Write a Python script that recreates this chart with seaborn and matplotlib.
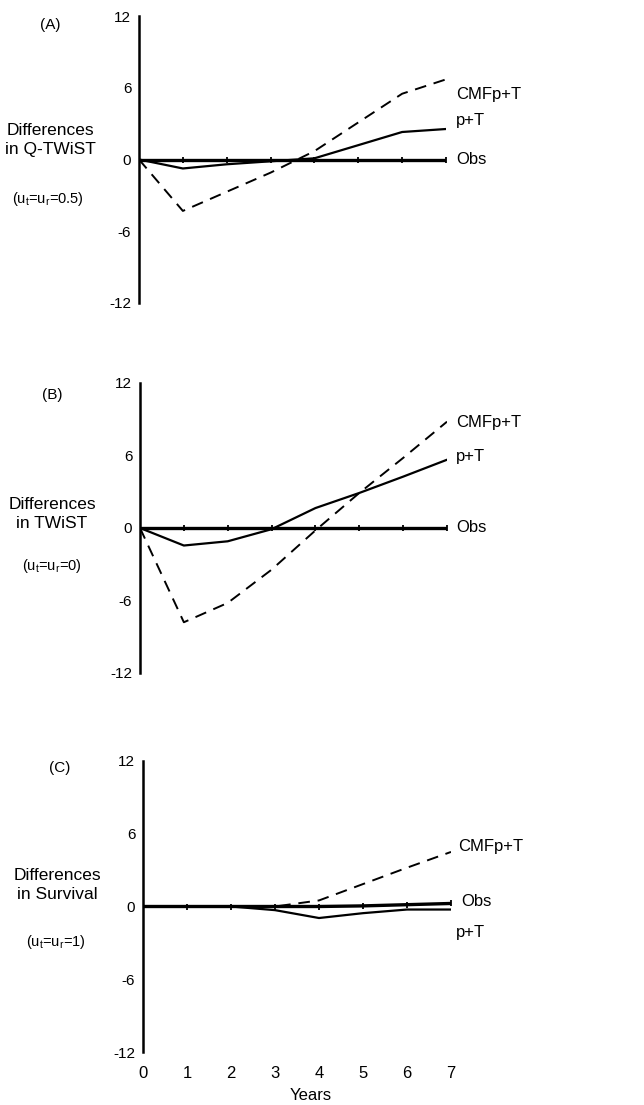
import numpy as np
import pandas as pd
import matplotlib
matplotlib.use("Agg")
import matplotlib.pyplot as plt
import seaborn as sns

sns.set_theme(style="white")
plt.rcParams['font.family'] = ['Liberation Sans', 'DejaVu Sans']
plt.rcParams['mathtext.fontset'] = 'custom'
plt.rcParams['mathtext.rm'] = 'Liberation Sans'
plt.rcParams['mathtext.it'] = 'Liberation Sans:italic'
plt.rcParams['text.color'] = 'black'
plt.rcParams['xtick.color'] = 'black'
plt.rcParams['ytick.color'] = 'black'
plt.rcParams['axes.labelcolor'] = 'black'

years = [0, 1, 2, 3, 4, 5, 6, 7]
yticks = [-12, -6, 0, 6, 12]
series_names = ["CMFp+T", "p+T", "Obs"]

# Panel A: Q-TWiST
a_cmf = [0, -4.3, -2.7, -1.1, 0.7, 3.1, 5.5, 6.7]
a_pt = [0, -0.75, -0.4, -0.15, 0.1, 1.2, 2.3, 2.55]
a_obs = [0, 0, 0, 0, 0, 0, 0, 0]

# Panel B: TWiST
b_cmf = [0, -7.8, -6.2, -3.45, -0.2, 2.9, 5.8, 8.8]
b_pt = [0, -1.45, -1.1, -0.1, 1.65, 2.9, 4.25, 5.65]
b_obs = [0, 0, 0, 0, 0, 0, 0, 0]

# Panel C: Survival
c_cmf = [0, 0, 0, 0, 0.5, 1.85, 3.2, 4.5]
c_pt = [0, 0, 0, -0.3, -0.95, -0.55, -0.25, -0.25]
c_obs = [0, 0, 0, 0, 0, 0.05, 0.15, 0.25]

panel_tags = ["(A)", "(B)", "(C)"]
panel_titles = ["Differences\nin Q-TWiST", "Differences\nin TWiST", "Differences\nin Survival"]
panel_subs = [r"(u$_\mathrm{t}$=u$_\mathrm{r}$=0.5)", r"(u$_\mathrm{t}$=u$_\mathrm{r}$=0)",
              r"(u$_\mathrm{t}$=u$_\mathrm{r}$=1)"]
xlabel = "Years"

W, H = 644, 1105
fig = plt.figure(figsize=(W / 100, H / 100), dpi=100)


def px_axes(left, top, right, bottom):
    return fig.add_axes([left / W, 1 - bottom / H, (right - left) / W, (bottom - top) / H])


def ftext(x, y, s, **kw):
    fig.text(x / W, 1 - y / H, s, **kw)


axes_px = [(139, 16, 446, 303), (140, 383, 447, 673), (143, 761, 451, 1052)]
data = [(a_cmf, a_pt, a_obs), (b_cmf, b_pt, b_obs), (c_cmf, c_pt, c_obs)]

for i, (box, (cmf, pt, obs)) in enumerate(zip(axes_px, data)):
    ax = px_axes(*box)
    df = pd.DataFrame({"year": years * 3,
                       "value": cmf + pt + obs,
                       "series": [series_names[0]] * 8 + [series_names[1]] * 8 + [series_names[2]] * 8})
    sns.lineplot(data=df[df.series == "CMFp+T"], x="year", y="value", ax=ax, color="black",
                 lw=1.4, linestyle=(0, (6, 4)), legend=False)
    sns.lineplot(data=df[df.series == "p+T"], x="year", y="value", ax=ax, color="black",
                 lw=1.6, legend=False)
    sns.lineplot(data=df[df.series == "Obs"], x="year", y="value", ax=ax, color="black",
                 lw=2.4, marker="|", markersize=4.5, markeredgewidth=1.3,
                 markeredgecolor="black", legend=False)
    ax.set_xlim(0, 7)
    ax.set_ylim(-12, 12)
    for s in ["top", "right", "bottom"]:
        ax.spines[s].set_visible(False)
    ax.spines["left"].set_linewidth(1.8)
    ax.spines["left"].set_color("black")
    ax.set_yticks(yticks)
    ax.set_yticklabels([str(v) for v in yticks], fontsize=11)
    ax.tick_params(axis="y", direction="inout", length=5, width=1.5, pad=3, colors="black")
    ax.set_xlabel("")
    ax.set_ylabel("")
    if i < 2:
        ax.set_xticks([])
    else:
        ax.set_xticks(years)
        ax.set_xticklabels([str(v) for v in years], fontsize=12)
        ax.tick_params(axis="x", length=0, pad=10, colors="black")

# Panel texts
tag_pos = [(50, 25), (52, 395), (60, 768)]
title_pos = [(50, 140), (52, 514), (57, 885)]
sub_pos = [(48, 199), (52, 566), (56, 942)]
for i in range(3):
    ftext(*tag_pos[i], panel_tags[i], fontsize=11, ha="center", va="center")
    ftext(*title_pos[i], panel_titles[i], fontsize=12.5, ha="center", va="center", linespacing=1.3)
    ftext(*sub_pos[i], panel_subs[i], fontsize=10.5, ha="center", va="center")

# Series labels
label_pos = [
    [(456, 95), (456, 120), (456, 160)],
    [(456, 422), (456, 457), (456, 527)],
    [(458, 847), (456, 933), (461, 902)],
]
for i in range(3):
    for j, name in enumerate(series_names):
        ftext(*label_pos[i][j], name, fontsize=12, ha="left", va="center")

ftext(311, 1095, xlabel, fontsize=12, ha="center", va="center")

fig.savefig("out.png", dpi=100, facecolor="white")
